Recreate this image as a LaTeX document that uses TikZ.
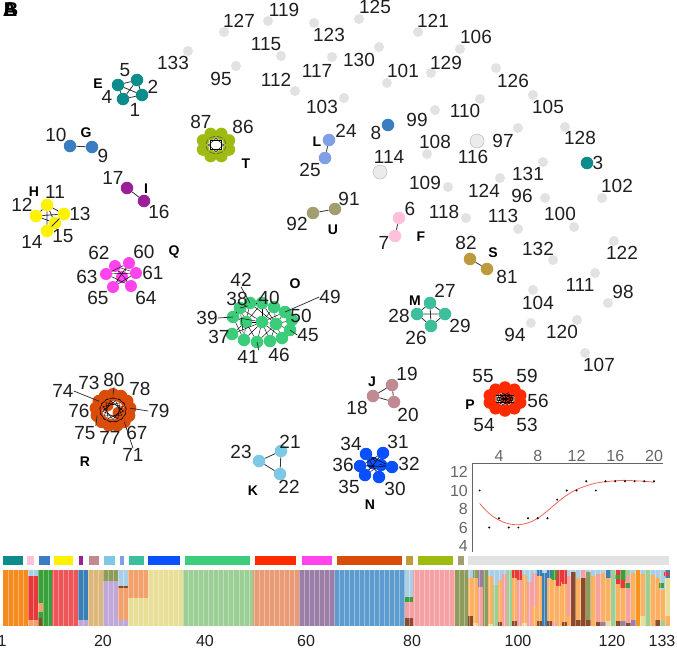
\documentclass[tikz,border=0pt]{standalone}
\usepackage{fontspec}
\setmainfont{Liberation Sans}
\definecolor{cGrey}{HTML}{E2E2E2}
\definecolor{cE}{HTML}{0E8B8B}
\definecolor{cF}{HTML}{FFC0DB}
\definecolor{cG}{HTML}{3A7DC2}
\definecolor{cH}{HTML}{FFF200}
\definecolor{cI}{HTML}{9B1F99}
\definecolor{cJ}{HTML}{C08A93}
\definecolor{cK}{HTML}{7DC8E4}
\definecolor{cL}{HTML}{7FA0E6}
\definecolor{cM}{HTML}{3DBE9C}
\definecolor{cN}{HTML}{0A50FF}
\definecolor{cO}{HTML}{3CCD7A}
\definecolor{cP}{HTML}{FF2A00}
\definecolor{cQ}{HTML}{FF44EE}
\definecolor{cR}{HTML}{D94C0A}
\definecolor{cS}{HTML}{BD9A3C}
\definecolor{cT}{HTML}{9DBB10}
\definecolor{cU}{HTML}{A39D72}
\definecolor{bOr}{HTML}{F68B1F}
\definecolor{bLO}{HTML}{FBB062}
\definecolor{bLB}{HTML}{A9CFE6}
\definecolor{bRd}{HTML}{E8383A}
\definecolor{bRs}{HTML}{EE5558}
\definecolor{bDG}{HTML}{3AA03A}
\definecolor{bLG}{HTML}{9BCF95}
\definecolor{bSB}{HTML}{3B7FB6}
\definecolor{bSBt}{HTML}{5E9CCF}
\definecolor{bLi}{HTML}{BFA8D8}
\definecolor{bTan}{HTML}{DDB77A}
\definecolor{bOl}{HTML}{8D9B5B}
\definecolor{bSa}{HTML}{F2A06C}
\definecolor{bSat}{HTML}{E99B76}
\definecolor{bKh}{HTML}{E8DE98}
\definecolor{bPu}{HTML}{9A7EA8}
\definecolor{bPk}{HTML}{F5A0A3}
\definecolor{bBr}{HTML}{8B4A2B}
\definecolor{bDO}{HTML}{F7941D}
\definecolor{axc}{HTML}{666666}
\definecolor{cCurve}{HTML}{F0645A}
\begin{document}
\begin{tikzpicture}[x=1pt,y=-1pt,
  lbl/.style={inner sep=0pt, font=\fontsize{19}{19}\selectfont, text=black!88},
  grp/.style={inner sep=0pt, font=\fontsize{14}{14}\selectfont\bfseries},
  pnl/.style={inner sep=0pt, font=\fontsize{20}{20}\selectfont\bfseries},
  gnode/.style={circle, fill=cGrey, inner sep=0pt, minimum size=10pt},
  bnode/.style={circle, fill=cGrey!70, draw=black!30, line width=0.4pt, inner sep=0pt, minimum size=14pt},
  cn/.style={circle, fill=#1, inner sep=0pt, minimum size=12.5pt},
  lnk/.style={draw=black!80, line width=0.8pt},
  msh/.style={draw=black, line width=0.45pt},
  ldr/.style={draw=black!85, line width=0.7pt},
  tk/.style={inner sep=0pt, font=\fontsize{16}{16}\selectfont, text=axc},
  axl/.style={inner sep=0pt, font=\fontsize{16}{16}\selectfont, text=black!88},
]
\useasboundingbox (0,0) rectangle (677,649);
\fill[white] (0,0) rectangle (677,649);

% panel letters
\node[pnl] (pA) at (10,10) {A};
\node[pnl] (pB) at (11,10) {B};

% grey (unclustered) nodes
\foreach \n/\cx/\cy/\lx/\ly in {133/188/51/173/63, 127/224/32/239/21, 95/236/66/221/79,
  119/268/21/284/10, 115/281/56/266/44, 123/314/23/329/35, 112/295/91/276/80,
  117/332/57/317/71, 125/359/19/375/7, 130/379/47/359/60, 103/344/98/322/107,
  101/387/83/403/71, 121/418/32/433/21, 129/431/73/446/63, 106/460/49/476/37,
  110/480/99/465/111, 99/435/110/417/120, 126/496/68/513/81, 105/533/95/548/107,
  97/518/128/503/141, 128/565/127/580/138, 108/427/154/435/142, 131/543/162/528/174,
  124/500/178/484/191, 109/448/187/425/183, 96/545/198/522/196, 102/602/198/617/186,
  118/466/218/444/212, 113/518/229/503/216, 100/574/227/560/214, 122/614/241/622/253,
  132/553/260/538/249, 111/595/273/580/285, 98/608/303/623/292, 104/533/290/538/303,
  94/531/323/515/335, 120/577/320/562/332, 107/585/353/599/365}{
  \node[gnode] (g\n) at (\cx,\cy) {};
  \node[lbl] (gl\n) at (\lx,\ly) {\n};
}
\node[bnode] (g116) at (477,141) {};
\node[lbl] (gl116) at (473,157) {116};
\node[bnode] (g114) at (380,172) {};
\node[lbl] (gl114) at (389,157) {114};

% isolated coloured nodes
\node[cn=cG] (v8) at (388,125) {};
\node[lbl] (l8) at (376,133) {8};
\node[cn=cE] (v3) at (587,163) {};
\node[lbl] (l3) at (598,163) {3};

% E
\node[cn=cE] (e1) at (123,99) {};
\node[cn=cE] (e2) at (142,95) {};
\node[cn=cE] (e4) at (118,85) {};
\node[cn=cE] (e5) at (137,80) {};
\draw[lnk] (e1) -- (e2) (e1) -- (e4) (e1) -- (e5) (e2) -- (e4) (e2) -- (e5) (e4) -- (e5);
\node[lbl] (le5) at (125,70) {5};
\node[lbl] (le2) at (153,87) {2};
\node[lbl] (le4) at (107,97) {4};
\node[lbl] (le1) at (135,110) {1};
\node[grp] (gE) at (98,84) {E};

% G
\node[cn=cG] (g10n) at (70,146) {};
\node[cn=cG] (g9n) at (92,147) {};
\draw[lnk] (g10n) -- (g9n);
\node[lbl] (lg10) at (56,135) {10};
\node[lbl] (lg9) at (103,156) {9};
\node[grp] (gG) at (86,133) {G};

% I
\node[cn=cI] (i17) at (127,188) {};
\node[cn=cI] (i16) at (144,201) {};
\draw[lnk] (i17) -- (i16);
\node[lbl] (li17) at (113,178) {17};
\node[lbl] (li16) at (159,212) {16};
\node[grp] (gI) at (146,189) {I};

% H
\node[cn=cH] (h11) at (47,205) {};
\node[cn=cH] (h12) at (36,216) {};
\node[cn=cH] (h13) at (64,214) {};
\node[cn=cH] (h15) at (55,223) {};
\node[cn=cH] (h14) at (47,231) {};
\draw[lnk] (h11) -- (h14) (h12) -- (h13) (h11) -- (h15) (h12) -- (h15) (h13) -- (h14) (h11) -- (h12) (h11) -- (h13);
\node[grp] (gH) at (34,192) {H};
\node[lbl] (lh11) at (55,192) {11};
\node[lbl] (lh12) at (22,205) {12};
\node[lbl] (lh13) at (80,214) {13};
\node[lbl] (lh14) at (32,242) {14};
\node[lbl] (lh15) at (63,236) {15};

% Q
\foreach \k/\px/\py in {1/115/266, 2/129/263, 3/106/274, 4/136/273, 5/122/277, 6/113/287, 7/131/286}{
  \node[cn=cQ, minimum size=12pt] (q\k) at (\px,\py) {};
}
\foreach \i/\j in {1/5, 2/5, 3/4, 1/4, 2/3, 5/6, 5/7, 3/7, 4/6, 1/7, 2/6}{
  \draw[msh] (q\i) -- (q\j);
}
\node[lbl] (lq62) at (99,253) {62};
\node[lbl] (lq60) at (144,252) {60};
\node[grp] (gQ) at (174,252) {Q};
\node[lbl] (lq63) at (87,277) {63};
\node[lbl] (lq61) at (153,273) {61};
\node[lbl] (lq65) at (98,298) {65};
\node[lbl] (lq64) at (146,298) {64};

% T
\foreach \k in {0,...,7}{
  \pgfmathsetmacro\px{216+14*cos(22.5+45*\k)}
  \pgfmathsetmacro\py{145-12*sin(22.5+45*\k)}
  \node[cn=cT] (t\k) at (\px,\py) {};
}
\foreach \k in {0,...,7}{
  \pgfmathtruncatemacro\j{mod(\k+3,8)}
  \pgfmathtruncatemacro\m{mod(\k+2,8)}
  \draw[msh] (t\k) -- (t\j);
  \draw[msh, draw=black!70] (t\k) -- (t\m);
}
\node[lbl] (lt87) at (201,122) {87};
\node[lbl] (lt86) at (243,127) {86};
\node[grp] (gT) at (246,164) {T};

% L
\node[cn=cL] (l24) at (329,140) {};
\node[cn=cL] (l25) at (325,158) {};
\draw[lnk] (l24) -- (l25);
\node[grp] (gL) at (317,142) {L};
\node[lbl] (ll24) at (346,131) {24};
\node[lbl] (ll25) at (310,170) {25};

% U
\node[cn=cU] (u92) at (313,213) {};
\node[cn=cU] (u91) at (335,209) {};
\draw[lnk] (u92) -- (u91);
\node[lbl] (lu91) at (349,199) {91};
\node[lbl] (lu92) at (297,224) {92};
\node[grp] (gU) at (333,230) {U};

% F
\node[cn=cF] (f6) at (399,218) {};
\node[cn=cF] (f7) at (395,236) {};
\draw[lnk] (f6) -- (f7);
\node[lbl] (lf6) at (410,209) {6};
\node[lbl] (lf7) at (384,243) {7};
\node[grp] (gF) at (421,237) {F};

% S
\node[cn=cS] (s82) at (470,259) {};
\node[cn=cS] (s81) at (487,269) {};
\draw[lnk] (s82) -- (s81);
\node[lbl] (ls82) at (466,243) {82};
\node[grp] (gS) at (493,253) {S};
\node[lbl] (ls81) at (507,277) {81};

% M
\node[cn=cM] (m27) at (430,303) {};
\node[cn=cM] (m28) at (417,314) {};
\node[cn=cM] (m29) at (445,314) {};
\node[cn=cM] (m26) at (431,326) {};
\draw[lnk] (m27) -- (m26) (m28) -- (m29) (m27) -- (m28) (m27) -- (m29) (m26) -- (m28) (m26) -- (m29);
\node[grp] (gM) at (415,301) {M};
\node[lbl] (lm27) at (445,291) {27};
\node[lbl] (lm28) at (399,316) {28};
\node[lbl] (lm29) at (460,326) {29};
\node[lbl] (lm26) at (416,338) {26};

% O
\foreach \k/\px/\py in {1/233/317, 2/240/308, 3/250/303, 4/262/303, 5/274/307, 6/285/312,
  7/292/320, 8/290/330, 9/282/338, 10/270/341, 11/257/342, 12/244/340, 13/232/334,
  14/246/322, 15/262/322, 16/276/324}{
  \node[cn=cO, minimum size=12.5pt] (o\k) at (\px,\py) {};
}
\foreach \i/\j in {1/14, 2/14, 3/14, 12/14, 13/14, 14/15, 4/15, 11/15, 15/16, 5/16, 6/16,
  7/16, 8/16, 9/16, 10/16, 2/3, 3/4, 12/13, 1/2, 10/11, 11/14, 4/14, 5/15, 10/15, 2/15,
  3/16, 12/15, 9/15, 1/15, 6/15, 13/15, 11/16, 1/12, 4/16, 2/12}{
  \draw[msh] (o\i) -- (o\j);
}
\node[lbl] (lo42) at (241,280) {42};
\node[grp] (gO) at (295,284) {O};
\node[lbl] (lo38) at (237,299) {38};
\node[lbl] (lo40) at (269,298) {40};
\node[lbl] (lo49) at (330,297) {49};
\node[lbl] (lo39) at (207,318) {39};
\node[lbl] (lo50) at (301,316) {50};
\node[lbl] (lo37) at (219,337) {37};
\node[lbl] (lo45) at (308,335) {45};
\node[lbl] (lo41) at (248,357) {41};
\node[lbl] (lo46) at (279,355) {46};
\draw[ldr] (lo42.south) -- (o3.center);
\draw[ldr] (lo38.south east) -- (o2.center);
\draw[ldr] (lo39.east) -- (o1.center);
\draw[ldr] (lo49.west) -- (o6.center);
\draw[ldr] (lo45.west) -- (o8.center);
\draw[ldr] (lo41.north east) -- (o11.center);

% R
\foreach \k in {0,...,12}{
  \pgfmathsetmacro\px{113+17*cos(90+27.69*\k)}
  \pgfmathsetmacro\py{410-15.5*sin(90+27.69*\k)}
  \node[cn=cR, minimum size=13pt] (r\k) at (\px,\py) {};
}
\node[cn=cR, minimum size=13pt] (r13) at (107,405) {};
\node[cn=cR, minimum size=13pt] (r14) at (119,413) {};
\foreach \k in {0,...,12}{
  \pgfmathtruncatemacro\j{mod(\k+3,13)}
  \pgfmathtruncatemacro\m{mod(\k+5,13)}
  \draw[msh] (r\k) -- (r\j);
  \draw[msh] (r\k) -- (r\m);
}
\draw[msh] (r13) -- (r14);
\node[lbl] (lr74) at (63,391) {74};
\node[lbl] (lr73) at (89,383) {73};
\node[lbl] (lr80) at (114,380) {80};
\node[lbl] (lr78) at (140,389) {78};
\node[lbl] (lr76) at (79,411) {76};
\node[lbl] (lr79) at (159,411) {79};
\node[lbl] (lr75) at (85,433) {75};
\node[lbl] (lr77) at (110,438) {77};
\node[lbl] (lr67) at (137,433) {67};
\node[lbl] (lr71) at (133,455) {71};
\node[grp] (gR) at (85,462) {R};
\draw[ldr] (lr74.east) -- (r2.center);
\draw[ldr] (lr80.south) -- (r0.center);
\draw[ldr] (lr79.west) -- (r10.center);
\draw[ldr] (lr75.north east) -- (r4.center);
\draw[ldr] (lr71.north) -- (r8.center);

% J
\node[cn=cJ] (j19) at (392,385) {};
\node[cn=cJ] (j18) at (373,396) {};
\node[cn=cJ] (j20) at (394,402) {};
\draw[lnk] (j19) -- (j18) -- (j20) -- (j19);
\node[grp] (gJ) at (372,382) {J};
\node[lbl] (lj19) at (407,374) {19};
\node[lbl] (lj18) at (357,408) {18};
\node[lbl] (lj20) at (408,415) {20};

% P
\foreach \k in {0,...,9}{
  \pgfmathsetmacro\px{505+16*cos(90+36*\k)}
  \pgfmathsetmacro\py{399-11.5*sin(90+36*\k)}
  \node[cn=cP, minimum size=12.5pt] (p\k) at (\px,\py) {};
}
\node[cn=cP, minimum size=12.5pt] (p10) at (507,398) {};
\foreach \k in {0,...,9}{
  \pgfmathtruncatemacro\j{mod(\k+4,10)}
  \pgfmathtruncatemacro\m{mod(\k+5,10)}
  \draw[msh] (p\k) -- (p\j);
  \draw[msh] (p\k) -- (p\m);
}
\node[lbl] (lp55) at (483,376) {55};
\node[lbl] (lp59) at (527,376) {59};
\node[grp] (gP) at (470,405) {P};
\node[lbl] (lp56) at (538,401) {56};
\node[lbl] (lp54) at (484,425) {54};
\node[lbl] (lp53) at (527,425) {53};

% K
\node[cn=cK] (k23) at (259,461) {};
\node[cn=cK] (k21) at (281,451) {};
\node[cn=cK] (k22) at (280,474) {};
\draw[lnk] (k23) -- (k21) -- (k22) -- (k23);
\node[lbl] (lk23) at (241,452) {23};
\node[lbl] (lk21) at (290,442) {21};
\node[lbl] (lk22) at (289,487) {22};
\node[grp] (gK) at (253,491) {K};

% N
\foreach \k/\px/\py in {1/366/454, 2/383/453, 3/360/466, 4/373/463, 5/392/467, 6/365/475, 7/379/477, 8/381/465}{
  \node[cn=cN] (n\k) at (\px,\py) {};
}
\foreach \i/\j in {1/8, 2/4, 3/8, 4/7, 4/5, 6/8, 1/7, 2/6, 3/5, 1/5, 4/6, 2/3}{
  \draw[msh] (n\i) -- (n\j);
}
\node[lbl] (ln34) at (351,444) {34};
\node[lbl] (ln31) at (398,442) {31};
\node[lbl] (ln36) at (343,465) {36};
\node[lbl] (ln32) at (409,464) {32};
\node[lbl] (ln35) at (349,487) {35};
\node[lbl] (ln30) at (395,489) {30};
\node[grp] (gN) at (370,505) {N};

% inset plot
\draw[axc, line width=0.9pt] (472,552) -- (472,463) -- (663,463);
\foreach \v/\xp in {4/499, 8/537.75, 12/576.5, 16/615.25, 20/654}{
  \node[tk] (tx\v) at (\xp,456) {\v};
}
\foreach \v/\yp in {12/472, 10/490.5, 8/509, 6/527.5, 4/546}{
  \node[tk, anchor=east] (ty\v) at (468,\yp) {\v};
}
\begin{scope}[shift={(460.25,583)}, x=9.6875pt, y=9.25pt]
  \draw[cCurve, line width=0.8pt] plot[smooth, tension=0.6] coordinates {(2,8.6) (3,7.5) (4,6.8) (5,6.4) (6,6.3) (7,6.5) (8,7.0) (9,7.8) (10,8.7) (11,9.5) (12,10.1) (13,10.5) (14,10.8) (15,10.95) (16,11.05) (17,11.1) (18,11.05) (19,11.0) (20,10.9)};
  \foreach \v/\w in {2/10, 3/6, 4/7, 5/6, 6/6, 7/7, 8/7, 9/7, 10/9, 11/10, 12/10, 13/11, 14/10, 15/11, 16/11, 17/11, 18/11, 19/11, 20/11}{
    \fill[black] (\v,\w) circle (1.1pt);
  }
\end{scope}

% group colour strip
\foreach \c/\xa/\xb in {cE/3.3/22.7, cF/27/34, cG/39/50, cH/54/73, cI/79/83, cJ/89/99,
  cK/104/115, cL/120/124, cM/129/144, cN/148/180, cO/185/250, cP/255/296, cQ/302/332,
  cR/337/402, cS/406/413, cT/418/453, cU/458/464, cGrey/468/669}{
  \fill[fill=\c] (\xa,556) rectangle (\xb,564.5);
}

% stacked bars: clustered part
\fill[bOr] (3,570) rectangle (28,626);
\fill[bLB] (28,570) rectangle (38,576);
\fill[bRd] (28,576) rectangle (38,620);
\fill[bSa] (28,620) rectangle (38,626);
\fill[bDG] (38,570) rectangle (52,626);
\fill[bSa] (38,603) rectangle (43,612);
\fill[bBr] (38,618) rectangle (42,626);
\fill[bRs] (52,570) rectangle (78,626);
\fill[bSB] (78,570) rectangle (88,620);
\fill[bLi] (78,620) rectangle (88,626);
\fill[bTan] (88,570) rectangle (103,626);
\fill[bOl] (103,570) rectangle (118,581);
\fill[bLi] (103,581) rectangle (118,626);
\fill[bLB] (118,570) rectangle (128,586);
\fill[bBr] (118,586) rectangle (128,588);
\fill[bSa] (118,588) rectangle (128,620);
\fill[bLi] (118,620) rectangle (128,626);
\fill[bSa] (128,570) rectangle (148,598);
\fill[bKh] (128,598) rectangle (148,626);
\fill[bKh] (148,570) rectangle (183,626);
\fill[bLG] (183,570) rectangle (253,626);
\fill[bSat] (253,570) rectangle (299,626);
\fill[bPu] (299,570) rectangle (335,626);
\fill[bSBt] (335,570) rectangle (405,626);
\fill[bLB] (405,570) rectangle (413,597);
\fill[bDG] (405,597) rectangle (413,602);
\fill[bPk] (405,602) rectangle (413,618);
\fill[bBr] (405,618) rectangle (413,626);
\fill[bPk] (413,570) rectangle (455,626);
\fill[bOl] (455,570) rectangle (468,626);

% stacked bars: unclustered part
\foreach \b/\t/\th/\bo/\bh [count=\k from 0] in {bLO/bLB/8/bBr/10, bLO/bOl/8/bKh/3,
  bPk/bPu/17/bPk/0, bOl/bOl/0/bOl/0, bLO/bLB/6/bKh/2, bLG/bLB/15/bLG/0, bLO/bLB/10/bBr/4,
  bPk/bLB/4/bPk/0, bLG/bLG/0/bLG/0, bLO/bRd/8/bBr/5, bPk/bRd/10/bPk/0, bLO/bLB/5/bKh/3,
  bPk/bLB/12/bPk/0, bPk/bLB/3/bLO/20, bLO/bSB/6/bBr/5, bSB/bLB/3/bSB/0, bLO/bSB/8/bBr/5,
  bLO/bDG/10/bPk/4, bLO/bRd/12/bLO/0, bLO/bRd/14/bBr/4, bPk/bLB/6/bLO/10, bBr/bLB/2/bBr/0,
  bLO/bLB/8/bBr/6, bBr/bPk/8/bBr/0, bOl/bLB/2/bBr/6, bLO/bLB/6/bLO/0, bPk/bLB/4/bBr/4,
  bLO/bLB/3/bPu/4, bLO/bSB/8/bKh/5, bLG/bLG/0/bLG/0, bLO/bRd/14/bBr/5, bLO/bDG/12/bPu/5,
  bPk/bLG/5/bBr/3, bLO/bLB/3/bPu/6, bDO/bDO/0/bDO/0, bLO/bLB/4/bKh/10, bLG/bLG/0/bLG/0,
  bLO/bLB/5/bLO/0, bLO/bLB/8/bBr/6, bLO/bLB/20/bLG/5, bKh/bSB/8/bLO/10}{
  \pgfmathsetmacro\xa{468+\k*4.927}
  \fill[fill=\b] (\xa,570) rectangle ++(4.927,56);
  \fill[fill=\t] (\xa,570) rectangle ++(4.927,\th);
  \fill[fill=\bo] (\xa,626) rectangle ++(4.927,-\bh);
}
% small accents
\fill[bDG] (551,575) rectangle (556,579);
\fill[bRd] (556,578) rectangle (561,586);
\fill[bDG] (615,575) rectangle (620,579);
\fill[bRd] (620,580) rectangle (625,588);
\fill[bDG] (625,583) rectangle (630,588);
\fill[bRd] (664,572) rectangle (669,576);
\fill[bDG] (659,583) rectangle (664,588);
% bar separators
\foreach \i in {1,...,132}{
  \draw[white, opacity=0.35, line width=0.4pt] ({3+\i*5.015},570) -- ({3+\i*5.015},626);
}

% bar axis labels
\foreach \t/\xp in {1/2, 20/103, 40/205, 60/306, 80/412, 100/518, 120/612, 133/662}{
  \node[axl] (bx\t) at (\xp,641) {\t};
}
\end{tikzpicture}
\end{document}
